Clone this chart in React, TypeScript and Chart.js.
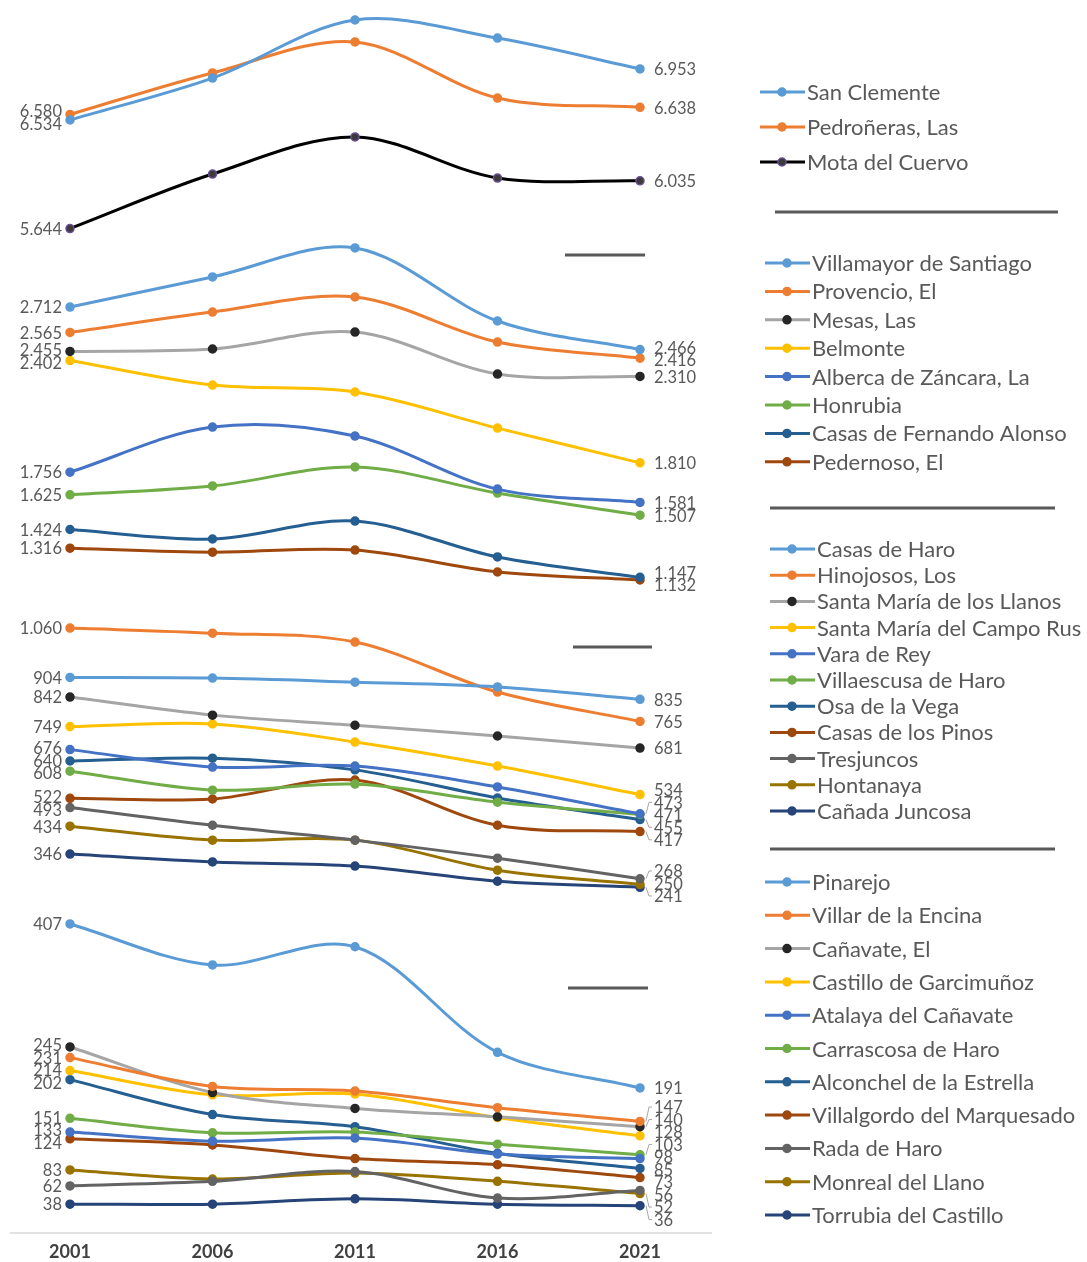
import React, { useEffect, useRef } from 'react';
import { Chart, registerables } from 'chart.js';
Chart.register(...registerables);

// ---------- categories ----------
const years = ['2001', '2006', '2011', '2016', '2021'];

// ---------- panel 1 ----------
const panel1Names = ['San Clemente', 'Pedroñeras, Las', 'Mota del Cuervo'];
const sanClemente = [6534, 6878, 7354, 7206, 6953];
const pedronerasLas = [6580, 6920, 7174, 6714, 6638];
const motaDelCuervo = [5644, 6091, 6395, 6058, 6035];

// ---------- panel 2 ----------
const panel2Names = ['Villamayor de Santiago', 'Provencio, El', 'Mesas, Las', 'Belmonte', 'Alberca de Záncara, La', 'Honrubia', 'Casas de Fernando Alonso', 'Pedernoso, El'];
const villamayor = [2712, 2886, 3054, 2631, 2466];
const provencio = [2565, 2683, 2770, 2509, 2416];
const mesas = [2455, 2469, 2567, 2324, 2310];
const belmonte = [2402, 2260, 2220, 2011, 1810];
const alberca = [1756, 2017, 1965, 1658, 1581];
const honrubia = [1625, 1676, 1786, 1635, 1507];
const casasFernandoAlonso = [1424, 1369, 1473, 1265, 1147];
const pedernoso = [1316, 1293, 1305, 1178, 1132];

// ---------- panel 3 ----------
const panel3Names = ['Casas de Haro', 'Hinojosos, Los', 'Santa María de los Llanos', 'Santa María del Campo Rus', 'Vara de Rey', 'Villaescusa de Haro', 'Osa de la Vega', 'Casas de los Pinos', 'Tresjuncos', 'Hontanaya', 'Cañada Juncosa'];
const casasDeHaro = [904, 902, 889, 874, 835];
const hinojosos = [1060, 1044, 1016, 858, 765];
const smLlanos = [842, 785, 753, 719, 681];
const smCampoRus = [749, 757, 700, 624, 534];
const varaDeRey = [676, 621, 624, 558, 473];
const villaescusa = [608, 548, 567, 510, 471];
const osaDeLaVega = [640, 649, 612, 523, 455];
const casasDeLosPinos = [522, 520, 580, 437, 417];
const tresjuncos = [493, 437, 390, 333, 268];
const hontanaya = [434, 390, 390, 295, 250];
const canadaJuncosa = [346, 321, 308, 260, 241];

// ---------- panel 4 ----------
const panel4Names = ['Pinarejo', 'Villar de la Encina', 'Cañavate, El', 'Castillo de Garcimuñoz', 'Atalaya del Cañavate', 'Carrascosa de Haro', 'Alconchel de la Estrella', 'Villalgordo del Marquesado', 'Rada de Haro', 'Monreal del Llano', 'Torrubia del Castillo'];
const pinarejo = [407, 353, 377, 238, 191];
const villarEncina = [231, 193, 187, 165, 147];
const canavate = [245, 185, 164, 153, 140];
const castilloGarcimunoz = [214, 182, 183, 152, 128];
const atalaya = [133, 121, 125, 104, 98];
const carrascosa = [151, 132, 133, 117, 103];
const alconchel = [202, 156, 140, 105, 85];
const villalgordo = [124, 116, 98, 90, 73];
const radaDeHaro = [62, 68, 81, 46, 56];
const monreal = [83, 71, 79, 68, 52];
const torrubia = [38, 38, 45, 38, 36];

// ---------- axis ranges per panel ----------
const panelMin = [5550, 987, 185, 0];
const panelMax = [7436, 3100, 1133, 432];

// ---------- styles ----------
const COL = {
  lightBlue: '#5B9BD5', orange: '#ED7D31', gray: '#A5A5A5', gold: '#FFC000', blue: '#4472C4',
  green: '#70AD47', darkBlue: '#255E91', brown: '#9E480E', darkGray: '#636363', olive: '#997300',
  navy: '#264478', black: '#000000',
};
const palette = [COL.lightBlue, COL.orange, COL.gray, COL.gold, COL.blue, COL.green, COL.darkBlue, COL.brown, COL.darkGray, COL.olive, COL.navy];

const panels = [
  { names: panel1Names, values: [sanClemente, pedronerasLas, motaDelCuervo], colors: [COL.lightBlue, COL.orange, COL.black] },
  { names: panel2Names, values: [villamayor, provencio, mesas, belmonte, alberca, honrubia, casasFernandoAlonso, pedernoso], colors: palette.slice(0, 8) },
  { names: panel3Names, values: [casasDeHaro, hinojosos, smLlanos, smCampoRus, varaDeRey, villaescusa, osaDeLaVega, casasDeLosPinos, tresjuncos, hontanaya, canadaJuncosa], colors: palette },
  { names: panel4Names, values: [pinarejo, villarEncina, canavate, castilloGarcimunoz, atalaya, carrascosa, alconchel, villalgordo, radaDeHaro, monreal, torrubia], colors: palette },
];

const W = 1087;
const H = 1262;
const bandHeights = [230, 365, 300, 328];
const axisIds = ['p1', 'p2', 'p3', 'p4'];

const legendGroups = [
  { start: 92, step: 35, x: 760 },
  { start: 263, step: 28.4, x: 765 },
  { start: 549, step: 26.2, x: 770 },
  { start: 882, step: 33.3, x: 765 },
];
const legendSeparators = [
  { y: 212, x0: 775, x1: 1058 },
  { y: 508, x0: 770, x1: 1055 },
  { y: 849, x0: 770, x1: 1055 },
];
const breakMarks = [
  { y: 255, x0: 565, x1: 645 },
  { y: 647, x0: 573, x1: 652 },
  { y: 988, x0: 568, x1: 648 },
];

const FONT = 'Lato, "Open Sans", sans-serif';

const fmt = (v: number) => String(Math.round(v)).replace(/\B(?=(\d{3})+(?!\d))/g, '.');

type Lab = { text: string; target: number; y: number; px: number };

function spread(items: Lab[], gap: number) {
  items.sort((a, b) => a.target - b.target);
  let groups = items.map((it) => ({ members: [it], center: it.target }));
  let changed = true;
  while (changed) {
    changed = false;
    for (let i = 0; i < groups.length - 1; i++) {
      const a = groups[i];
      const b = groups[i + 1];
      const aBottom = a.center + ((a.members.length - 1) * gap) / 2;
      const bTop = b.center - ((b.members.length - 1) * gap) / 2;
      if (bTop - aBottom < gap) {
        const members = a.members.concat(b.members);
        const center = members.reduce((s, m) => s + m.target, 0) / members.length;
        groups.splice(i, 2, { members, center });
        changed = true;
        break;
      }
    }
  }
  groups.forEach((g) =>
    g.members.forEach((m, k) => {
      m.y = g.center + (k - (g.members.length - 1) / 2) * gap;
    })
  );
}

const decorPlugin = {
  id: 'decor',
  afterDatasetsDraw(chart: any) {
    const ctx = chart.ctx as CanvasRenderingContext2D;
    ctx.save();
    // baseline
    ctx.strokeStyle = '#d9d9d9';
    ctx.lineWidth = 1.5;
    ctx.beginPath();
    ctx.moveTo(10, chart.chartArea.bottom);
    ctx.lineTo(712, chart.chartArea.bottom);
    ctx.stroke();
    // break marks
    ctx.strokeStyle = '#595959';
    ctx.lineWidth = 3;
    breakMarks.forEach((b) => {
      ctx.beginPath();
      ctx.moveTo(b.x0, b.y);
      ctx.lineTo(b.x1, b.y);
      ctx.stroke();
    });
    // data labels
    ctx.font = `16.5px ${FONT}`;
    ctx.textBaseline = 'middle';
    axisIds.forEach((id) => {
      const left: Lab[] = [];
      const right: Lab[] = [];
      chart.data.datasets.forEach((ds: any, i: number) => {
        if (ds.yAxisID !== id) return;
        const pts = chart.getDatasetMeta(i).data;
        const first = pts[0];
        const last = pts[pts.length - 1];
        left.push({ text: fmt(ds.data[0]), target: first.y, y: first.y, px: first.x });
        right.push({ text: fmt(ds.data[ds.data.length - 1]), target: last.y, y: last.y, px: last.x });
      });
      spread(left, 12.5);
      spread(right, 12.5);
      ctx.fillStyle = '#595959';
      ctx.textAlign = 'right';
      left.forEach((l) => ctx.fillText(l.text, l.px - 8, l.y + 1));
      ctx.textAlign = 'left';
      right.forEach((l) => {
        if (Math.abs(l.y - l.target) > 5) {
          ctx.strokeStyle = '#a6a6a6';
          ctx.lineWidth = 1;
          ctx.beginPath();
          ctx.moveTo(l.px + 6, l.target);
          ctx.lineTo(l.px + 9, l.y);
          ctx.lineTo(l.px + 12, l.y);
          ctx.stroke();
        }
        ctx.fillText(l.text, l.px + 14, l.y + 1);
      });
    });
    ctx.restore();
  },
  afterDraw(chart: any) {
    const ctx = chart.ctx as CanvasRenderingContext2D;
    ctx.save();
    // legend
    ctx.font = `22px ${FONT}`;
    ctx.textBaseline = 'middle';
    ctx.textAlign = 'left';
    let dsIndex = 0;
    panels.forEach((p, gi) => {
      const g = legendGroups[gi];
      p.names.forEach((name, k) => {
        const ds = chart.data.datasets[dsIndex++];
        const y = g.start + k * g.step;
        ctx.strokeStyle = ds.borderColor;
        ctx.lineWidth = 3;
        ctx.beginPath();
        ctx.moveTo(g.x, y);
        ctx.lineTo(g.x + 45, y);
        ctx.stroke();
        ctx.fillStyle = ds.pointBackgroundColor;
        ctx.strokeStyle = ds.pointBorderColor;
        ctx.lineWidth = 1.5;
        ctx.beginPath();
        ctx.arc(g.x + 22, y, 4, 0, Math.PI * 2);
        ctx.fill();
        ctx.stroke();
        ctx.fillStyle = '#595959';
        ctx.fillText(name, g.x + 47, y + 1);
      });
    });
    ctx.strokeStyle = '#595959';
    ctx.lineWidth = 3;
    legendSeparators.forEach((s) => {
      ctx.beginPath();
      ctx.moveTo(s.x0, s.y);
      ctx.lineTo(s.x1, s.y);
      ctx.stroke();
    });
    ctx.restore();
  },
};

export default function App() {
  const ref = useRef<HTMLCanvasElement | null>(null);
  useEffect(() => {
    if (!ref.current) return;
    const datasets: any[] = [];
    panels.forEach((p, pi) => {
      p.names.forEach((name, k) => {
        const color = p.colors[k];
        const isGray = color === COL.gray;
        const isBlack = color === COL.black;
        const markerFill = isGray ? '#262626' : isBlack ? '#3b3b3b' : color;
        const markerBorder = isGray ? '#262626' : isBlack ? '#6a4c93' : color;
        datasets.push({
          label: name,
          data: p.values[k],
          yAxisID: axisIds[pi],
          borderColor: color,
          backgroundColor: color,
          pointBackgroundColor: markerFill,
          pointBorderColor: markerBorder,
          pointBorderWidth: 1.5,
          pointRadius: 4,
          borderWidth: 3,
          tension: 0.33,
          clip: false,
        });
      });
    });
    const scales: any = {
      x: {
        type: 'category',
        offset: false,
        grid: { display: false, drawTicks: false },
        border: { display: false },
        ticks: { color: '#404040', font: { family: FONT, size: 18, weight: 'bold' }, padding: 8, maxRotation: 0, autoSkip: false },
        afterFit: (s: any) => {
          s.height = 29;
        },
      },
    };
    // defined bottom panel first; last-defined axis is placed on top of the stack
    [3, 2, 1, 0].forEach((pi) => {
      scales[axisIds[pi]] = {
        type: 'linear',
        position: 'left',
        stack: 'panels',
        stackWeight: bandHeights[pi],
        weight: 4 - pi,
        min: panelMin[pi],
        max: panelMax[pi],
        display: true,
        grid: { display: false, drawTicks: false },
        border: { display: false },
        ticks: { display: false },
      };
    });
    const chart = new Chart(ref.current, {
      type: 'line',
      data: { labels: years, datasets },
      options: {
        responsive: false,
        maintainAspectRatio: false,
        animation: false,
        layout: { padding: { left: 70, right: W - 640, top: 10, bottom: 0 } },
        plugins: { legend: { display: false }, tooltip: { enabled: false } },
        scales,
      },
      plugins: [decorPlugin],
    } as any);
    return () => chart.destroy();
  }, []);
  return (
    <div style={{ position: 'absolute', left: 0, top: 0, width: W, height: H, background: '#ffffff' }}>
      <canvas ref={ref} width={W} height={H} style={{ width: W, height: H, display: 'block' }} />
    </div>
  );
}
